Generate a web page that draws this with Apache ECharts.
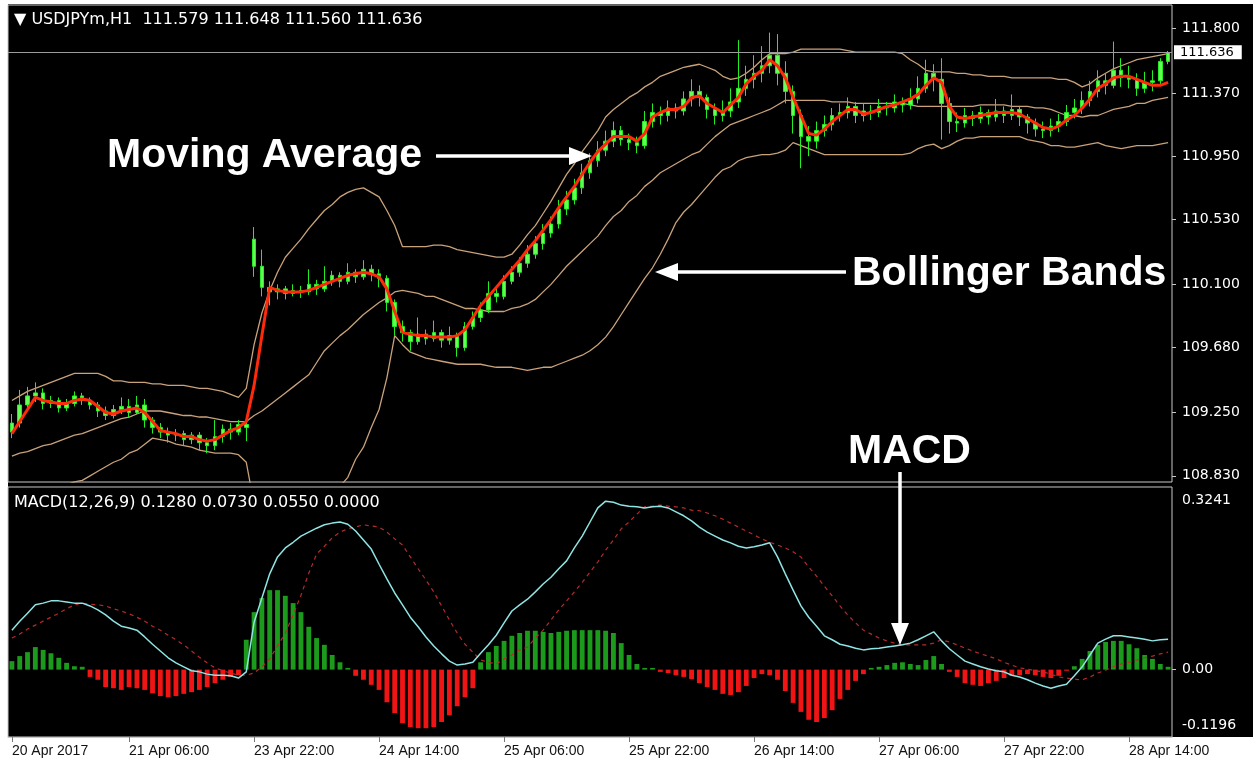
<!DOCTYPE html>
<html><head><meta charset="utf-8">
<script src="https://cdn.jsdelivr.net/npm/echarts@6/dist/echarts.min.js"></script>
<style>html,body{margin:0;padding:0;background:#fff}#c{width:1253px;height:770px}</style>
</head><body><div id="c"></div>
<script>
// ---------- DATA ----------
const tickLabels = ['20 Apr 2017','21 Apr 06:00','23 Apr 22:00','24 Apr 14:00','25 Apr 06:00','25 Apr 22:00','26 Apr 14:00','27 Apr 06:00','27 Apr 22:00','28 Apr 14:00'];
const priceTicks = [111.8,111.37,110.95,110.53,110.1,109.68,109.25,108.83];
const macdTicks = [0.3241,0,-0.1196];
const lastPrice = 111.636;

// [open, close, low, high]
const candles = [
[109.12,109.18,109.08,109.24],[109.18,109.30,109.15,109.40],[109.30,109.36,109.26,109.42],[109.36,109.38,109.32,109.45],[109.38,109.31,109.27,109.41],
[109.31,109.33,109.28,109.36],[109.33,109.28,109.25,109.35],[109.28,109.31,109.26,109.34],[109.31,109.36,109.29,109.39],[109.36,109.33,109.30,109.38],
[109.33,109.30,109.27,109.35],[109.30,109.26,109.22,109.32],[109.26,109.23,109.20,109.29],[109.23,109.27,109.21,109.30],[109.27,109.29,109.24,109.35],
[109.29,109.25,109.22,109.34],[109.25,109.30,109.24,109.36],[109.30,109.20,109.15,109.34],[109.20,109.15,109.11,109.22],[109.15,109.12,109.08,109.18],
[109.12,109.10,109.05,109.15],[109.10,109.11,109.06,109.14],[109.11,109.07,109.03,109.13],[109.07,109.10,109.04,109.12],[109.10,109.05,109.00,109.12],
[109.05,109.03,108.98,109.08],[109.03,109.09,109.00,109.20],[109.09,109.14,109.05,109.17],[109.14,109.12,109.07,109.18],[109.12,109.17,109.10,109.20],
[109.17,109.15,109.06,109.20],[110.40,110.22,110.15,110.48],[110.22,110.08,110.02,110.33],[110.08,110.05,109.96,110.12],[110.05,110.07,110.00,110.10],
[110.07,110.04,110.00,110.09],[110.04,110.06,110.02,110.10],[110.06,110.05,110.01,110.09],[110.05,110.10,110.03,110.20],[110.10,110.07,110.03,110.13],
[110.07,110.12,110.05,110.22],[110.12,110.16,110.09,110.19],[110.16,110.12,110.08,110.18],[110.12,110.18,110.10,110.24],[110.18,110.15,110.11,110.20],
[110.15,110.20,110.13,110.26],[110.20,110.17,110.12,110.23],[110.17,110.14,110.08,110.20],[110.14,109.98,109.92,110.16],[109.98,109.82,109.76,110.00],
[109.82,109.78,109.72,109.86],[109.78,109.72,109.66,109.80],[109.72,109.77,109.70,109.88],[109.77,109.74,109.70,109.80],[109.74,109.78,109.72,109.86],
[109.78,109.73,109.68,109.80],[109.73,109.76,109.70,109.82],[109.76,109.68,109.62,109.78],[109.68,109.82,109.66,109.85],[109.82,109.88,109.80,109.92],
[109.88,109.93,109.85,109.98],[109.93,110.04,109.91,110.12],[110.04,110.02,109.98,110.08],[110.02,110.12,110.00,110.16],[110.12,110.18,110.10,110.22],
[110.18,110.24,110.15,110.28],[110.24,110.30,110.21,110.36],[110.30,110.37,110.27,110.42],[110.37,110.44,110.33,110.50],[110.44,110.50,110.41,110.55],
[110.50,110.60,110.47,110.66],[110.60,110.66,110.56,110.72],[110.66,110.74,110.63,110.80],[110.74,110.84,110.70,110.90],[110.84,110.92,110.80,110.97],
[110.92,110.99,110.88,111.05],[110.99,111.05,110.95,111.12],[111.05,111.12,111.01,111.18],[111.12,111.06,111.02,111.15],[111.06,111.04,110.99,111.10],
[111.04,111.02,110.97,111.08],[111.02,111.18,111.00,111.25],[111.18,111.24,111.14,111.30],[111.24,111.22,111.16,111.28],[111.22,111.27,111.18,111.32],
[111.27,111.25,111.20,111.30],[111.25,111.33,111.22,111.38],[111.33,111.38,111.28,111.46],[111.38,111.34,111.28,111.42],[111.34,111.26,111.20,111.36],
[111.26,111.22,111.16,111.30],[111.22,111.25,111.18,111.32],[111.25,111.31,111.21,111.40],[111.31,111.40,111.27,111.72],[111.40,111.46,111.35,111.55],
[111.46,111.50,111.40,111.62],[111.50,111.55,111.44,111.68],[111.55,111.62,111.50,111.77],[111.62,111.50,111.42,111.76],[111.50,111.38,111.30,111.58],
[111.38,111.22,111.10,111.42],[111.22,111.08,110.87,111.26],[111.08,111.05,110.95,111.15],[111.05,111.12,111.00,111.18],[111.12,111.16,111.08,111.22],
[111.16,111.22,111.12,111.27],[111.22,111.24,111.18,111.30],[111.24,111.28,111.20,111.34],[111.28,111.22,111.17,111.31],[111.22,111.25,111.18,111.30],
[111.25,111.24,111.19,111.29],[111.24,111.28,111.21,111.33],[111.28,111.27,111.22,111.31],[111.27,111.31,111.24,111.36],[111.31,111.29,111.24,111.34],
[111.29,111.33,111.26,111.40],[111.33,111.40,111.30,111.48],[111.40,111.50,111.37,111.59],[111.50,111.46,111.38,111.56],[111.46,111.30,111.06,111.60],
[111.30,111.18,111.10,111.34],[111.18,111.17,111.11,111.24],[111.17,111.22,111.14,111.27],[111.22,111.20,111.15,111.25],[111.20,111.24,111.17,111.28],
[111.24,111.21,111.16,111.26],[111.21,111.25,111.18,111.33],[111.25,111.22,111.17,111.28],[111.22,111.26,111.19,111.36],[111.26,111.21,111.15,111.28],
[111.21,111.17,111.10,111.23],[111.17,111.13,111.08,111.20],[111.13,111.12,111.07,111.18],[111.12,111.15,111.08,111.20],[111.15,111.18,111.11,111.23],
[111.18,111.24,111.15,111.29],[111.24,111.27,111.20,111.33],[111.27,111.32,111.23,111.38],[111.32,111.38,111.28,111.45],[111.38,111.45,111.34,111.52],
[111.45,111.42,111.36,111.50],[111.42,111.52,111.40,111.71],[111.52,111.47,111.41,111.60],[111.47,111.46,111.40,111.55],[111.46,111.40,111.35,111.50],
[111.40,111.44,111.37,111.51],[111.44,111.45,111.38,111.52],[111.45,111.579,111.42,111.60],[111.579,111.636,111.560,111.648]
];

const maLine = [
109.11,109.19,109.27,109.35,109.33,109.32,109.31,109.31,109.33,109.34,
109.33,109.29,109.25,109.24,109.26,109.27,109.28,109.25,109.19,109.13,
109.12,109.11,109.09,109.09,109.07,109.06,109.07,109.10,109.13,109.15,
109.19,109.43,109.76,110.08,110.06,110.05,110.05,110.05,110.06,110.08,
110.10,110.12,110.14,110.16,110.17,110.18,110.17,110.15,110.07,109.92,
109.78,109.77,109.76,109.76,109.75,109.75,109.75,109.76,109.80,109.88,
109.96,110.02,110.08,110.14,110.20,110.26,110.33,110.39,110.46,110.53,
110.61,110.68,110.75,110.83,110.91,110.98,111.03,111.08,111.08,111.08,
111.05,111.10,111.21,111.24,111.26,111.26,111.28,111.34,111.35,111.30,
111.27,111.24,111.29,111.34,111.43,111.48,111.52,111.59,111.55,111.47,
111.34,111.22,111.10,111.09,111.13,111.18,111.22,111.26,111.26,111.23,
111.24,111.26,111.28,111.29,111.31,111.33,111.36,111.42,111.47,111.44,
111.28,111.21,111.20,111.21,111.22,111.23,111.24,111.24,111.24,111.23,
111.20,111.17,111.14,111.13,111.15,111.19,111.22,111.27,111.33,111.40,
111.43,111.47,111.48,111.48,111.46,111.44,111.42,111.42,111.44
];

const bbUpper = [
109.33,109.36,109.39,109.41,109.43,109.45,109.47,109.49,109.51,109.51,
109.51,109.51,109.49,109.46,109.46,109.45,109.45,109.45,109.44,109.44,
109.43,109.43,109.43,109.42,109.41,109.41,109.40,109.39,109.37,109.35,
109.41,109.70,109.91,110.06,110.18,110.28,110.34,110.40,110.47,110.53,
110.59,110.63,110.68,110.71,110.73,110.74,110.71,110.68,110.59,110.49,
110.35,110.35,110.35,110.35,110.36,110.36,110.35,110.33,110.32,110.31,
110.30,110.29,110.28,110.28,110.30,110.36,110.43,110.49,110.57,110.65,
110.74,110.83,110.90,110.98,111.05,111.12,111.21,111.26,111.30,111.34,
111.37,111.41,111.44,111.48,111.50,111.52,111.54,111.55,111.56,111.54,
111.52,111.48,111.46,111.47,111.50,111.54,111.59,111.63,111.63,111.63,
111.64,111.66,111.66,111.66,111.66,111.66,111.66,111.65,111.64,111.64,
111.64,111.64,111.64,111.64,111.63,111.59,111.56,111.52,111.51,111.51,
111.51,111.50,111.50,111.49,111.49,111.48,111.48,111.48,111.47,111.47,
111.47,111.47,111.47,111.47,111.46,111.46,111.44,111.41,111.43,111.47,
111.50,111.53,111.55,111.57,111.59,111.60,111.61,111.62,111.63
];

const bbMiddle = [
108.96,108.98,108.99,109.01,109.03,109.04,109.06,109.08,109.10,109.11,
109.13,109.15,109.17,109.19,109.21,109.22,109.24,109.26,109.26,109.26,
109.25,109.24,109.23,109.23,109.22,109.22,109.21,109.20,109.19,109.19,
109.19,109.23,109.26,109.30,109.34,109.38,109.42,109.46,109.50,109.58,
109.66,109.71,109.76,109.80,109.85,109.90,109.94,109.98,110.01,110.05,
110.06,110.05,110.04,110.02,110.02,110.00,109.98,109.96,109.94,109.94,
109.93,109.92,109.92,109.92,109.94,109.95,109.97,110.00,110.05,110.10,
110.16,110.22,110.27,110.32,110.37,110.42,110.49,110.55,110.59,110.65,
110.69,110.75,110.79,110.84,110.87,110.90,110.93,110.96,110.98,111.03,
111.08,111.12,111.16,111.18,111.20,111.22,111.24,111.26,111.29,111.32,
111.32,111.32,111.32,111.32,111.32,111.31,111.31,111.31,111.30,111.30,
111.30,111.30,111.30,111.30,111.30,111.29,111.28,111.28,111.28,111.28,
111.28,111.28,111.28,111.28,111.29,111.29,111.29,111.29,111.28,111.28,
111.28,111.27,111.27,111.26,111.24,111.22,111.22,111.21,111.22,111.22,
111.24,111.26,111.27,111.28,111.30,111.30,111.32,111.33,111.34
];

const bbLower = [
108.64,108.66,108.67,108.69,108.70,108.72,108.74,108.77,108.79,108.80,
108.83,108.86,108.89,108.92,108.94,108.98,109.00,109.04,109.08,109.07,
109.06,109.04,109.03,109.02,109.00,108.99,108.98,108.98,108.98,108.97,
108.92,108.64,108.50,108.51,108.51,108.52,108.52,108.53,108.58,108.63,
108.68,108.70,108.76,108.82,108.94,109.02,109.15,109.27,109.48,109.76,
109.70,109.65,109.63,109.61,109.60,109.59,109.58,109.57,109.57,109.57,
109.57,109.56,109.55,109.55,109.55,109.54,109.53,109.54,109.55,109.55,
109.57,109.59,109.61,109.63,109.66,109.70,109.75,109.82,109.90,109.98,
110.06,110.14,110.21,110.30,110.40,110.51,110.58,110.63,110.69,110.75,
110.81,110.86,110.88,110.92,110.94,110.95,110.96,110.96,110.97,110.99,
111.04,111.02,111.00,110.98,110.96,110.96,110.96,110.96,110.96,110.96,
110.96,110.96,110.96,110.96,110.96,110.97,111.00,111.02,111.03,111.00,
111.02,111.05,111.07,111.07,111.08,111.08,111.08,111.08,111.08,111.08,
111.06,111.05,111.04,111.02,111.02,111.01,111.01,111.02,111.03,111.04,
111.02,111.01,111.00,111.01,111.02,111.02,111.02,111.03,111.04
];

const macdLine = [
0.070,0.086,0.100,0.115,0.118,0.122,0.122,0.120,0.118,0.118,
0.113,0.106,0.097,0.086,0.077,0.074,0.070,0.058,0.045,0.033,
0.021,0.012,0.005,-0.002,-0.004,-0.008,-0.010,-0.010,-0.011,-0.015,
-0.004,0.084,0.127,0.170,0.200,0.216,0.226,0.237,0.244,0.251,
0.257,0.260,0.262,0.258,0.246,0.230,0.214,0.187,0.161,0.136,
0.115,0.093,0.076,0.058,0.042,0.028,0.015,0.008,0.010,0.013,
0.029,0.044,0.061,0.083,0.104,0.115,0.125,0.138,0.152,0.164,
0.179,0.193,0.216,0.237,0.262,0.287,0.299,0.297,0.292,0.290,
0.289,0.287,0.289,0.290,0.287,0.280,0.273,0.264,0.253,0.244,
0.237,0.230,0.225,0.219,0.216,0.218,0.221,0.225,0.200,0.170,
0.141,0.113,0.093,0.077,0.060,0.053,0.045,0.042,0.038,0.035,
0.037,0.038,0.040,0.042,0.044,0.047,0.053,0.060,0.067,0.051,
0.037,0.026,0.015,0.010,0.005,0.001,-0.002,-0.004,-0.010,-0.013,
-0.018,-0.024,-0.029,-0.033,-0.029,-0.026,-0.011,0.005,0.026,0.047,
0.054,0.060,0.060,0.058,0.056,0.054,0.051,0.053,0.054
];

const signalLine = [
0.056,0.063,0.072,0.079,0.086,0.093,0.100,0.108,0.115,0.118,
0.116,0.115,0.113,0.108,0.104,0.099,0.093,0.086,0.077,0.070,
0.061,0.053,0.044,0.033,0.022,0.012,0.003,-0.002,-0.006,-0.010,
-0.010,-0.006,0.005,0.019,0.042,0.065,0.097,0.132,0.171,0.205,
0.219,0.234,0.244,0.250,0.253,0.257,0.255,0.253,0.244,0.232,
0.221,0.200,0.179,0.159,0.138,0.113,0.088,0.065,0.045,0.031,
0.017,0.013,0.010,0.019,0.026,0.035,0.040,0.056,0.070,0.088,
0.106,0.122,0.138,0.155,0.173,0.191,0.212,0.230,0.250,0.262,
0.276,0.289,0.290,0.292,0.290,0.289,0.287,0.283,0.282,0.278,
0.273,0.267,0.260,0.253,0.246,0.239,0.232,0.226,0.221,0.216,
0.209,0.200,0.182,0.166,0.148,0.131,0.113,0.097,0.083,0.070,
0.063,0.056,0.051,0.047,0.044,0.044,0.044,0.044,0.047,0.053,
0.049,0.044,0.038,0.033,0.028,0.024,0.019,0.013,0.008,0.003,
0.001,-0.002,-0.004,-0.008,-0.013,-0.015,-0.017,-0.018,-0.013,-0.006,
-0.001,0.005,0.010,0.013,0.017,0.021,0.024,0.028,0.031
];

const histogram = [
0.015,0.024,0.031,0.040,0.035,0.029,0.021,0.012,0.006,0.005,
-0.013,-0.018,-0.031,-0.033,-0.036,-0.031,-0.033,-0.036,-0.042,-0.047,
-0.049,-0.047,-0.043,-0.040,-0.036,-0.031,-0.024,-0.018,-0.013,-0.010,
0.053,0.102,0.127,0.141,0.141,0.131,0.118,0.102,0.076,0.056,
0.044,0.026,0.013,0.003,-0.011,-0.018,-0.027,-0.036,-0.058,-0.077,
-0.095,-0.102,-0.104,-0.104,-0.102,-0.093,-0.081,-0.065,-0.049,-0.033,
0.013,0.031,0.042,0.051,0.060,0.065,0.069,0.069,0.067,0.065,
0.067,0.069,0.070,0.070,0.070,0.070,0.069,0.065,0.047,0.026,
0.010,0.003,0.003,-0.004,-0.006,-0.010,-0.013,-0.017,-0.024,-0.031,
-0.036,-0.043,-0.045,-0.040,-0.029,-0.015,-0.008,-0.010,-0.018,-0.038,
-0.059,-0.075,-0.089,-0.093,-0.086,-0.072,-0.052,-0.036,-0.020,-0.008,
0.003,0.005,0.008,0.012,0.013,0.010,0.008,0.017,0.024,0.010,
-0.004,-0.013,-0.024,-0.027,-0.029,-0.024,-0.020,-0.015,-0.011,-0.010,
-0.008,-0.010,-0.013,-0.015,-0.011,-0.002,0.006,0.019,0.033,0.044,
0.049,0.051,0.051,0.045,0.038,0.026,0.019,0.010,0.005
];

// hourly bar times (market closed Fri 22:00 - Sun 22:00)
const MONTHS = ['Jan','Feb','Mar','Apr','May','Jun','Jul','Aug','Sep','Oct','Nov','Dec'];
const categories = [];
(function(){
  let t = Date.UTC(2017,3,20,15);
  while (categories.length < candles.length) {
    const d = new Date(t), dow = d.getUTCDay(), h = d.getUTCHours();
    const closed = (dow === 5 && h >= 22) || dow === 6 || (dow === 0 && h < 22);
    if (!closed) categories.push(d.getUTCDate() + ' ' + MONTHS[d.getUTCMonth()] + ' ' + String(h).padStart(2,'0') + ':00');
    t += 3600000;
  }
})();
// time-scale labels: first bar, then every 16 bars from 21 Apr 06:00 (index 15)
const isTickBar = i => i === 0 || (i >= 15 && (i - 15) % 16 === 0);
const tickLabelAt = i => i === 0 ? tickLabels[0] : (tickLabels[(i - 15) / 16 + 1] || '');

// ---------- CHART ----------
const FONT = '"DejaVu Sans", Tahoma, sans-serif';
const AXISFONT = '"Liberation Sans", Arial, sans-serif';
const BOLD = 'bold 41px "Liberation Sans", Arial, sans-serif';
const BAND = '#c9a27a';
const chart = echarts.init(document.getElementById('c'));

chart.setOption({
  animation: false,
  backgroundColor: '#fff',
  title: [
    {text: '\u25BC USDJPYm,H1  111.579 111.648 111.560 111.636', left: 14, top: 12, padding: 0,
     textStyle: {color: '#fff', fontSize: 16, fontWeight: 'normal', fontFamily: FONT}},
    {text: 'MACD(12,26,9) 0.1280 0.0730 0.0550 0.0000', left: 14, top: 495, padding: 0,
     textStyle: {color: '#fff', fontSize: 16, fontWeight: 'normal', fontFamily: FONT}}
  ],
  grid: [
    {left: 8, right: 81, top: 5, height: 477, show: true, backgroundColor: '#000', borderColor: '#c8c8c8', borderWidth: 1},
    {left: 8, right: 81, top: 487, height: 250, show: true, backgroundColor: '#000', borderColor: '#c8c8c8', borderWidth: 1}
  ],
  xAxis: [
    {type: 'category', gridIndex: 0, data: categories, boundaryGap: true,
     axisLine: {show: false, onZero: false}, axisTick: {show: false}, axisLabel: {show: false}, splitLine: {show: false}},
    {type: 'category', gridIndex: 1, data: categories, boundaryGap: true, position: 'bottom',
     axisLine: {show: true, onZero: false, lineStyle: {color: '#c8c8c8'}},
     axisTick: {show: true, interval: isTickBar, alignWithLabel: true, length: 5, lineStyle: {color: '#777'}},
     axisLabel: {interval: isTickBar, align: 'left', color: '#111', fontFamily: AXISFONT, fontSize: 14, margin: 7,
                 formatter: (v, i) => tickLabelAt(i)},
     splitLine: {show: false}}
  ],
  yAxis: [
    {type: 'value', gridIndex: 0, position: 'right', min: 108.789, max: 111.953,
     axisLine: {show: false}, splitLine: {show: false},
     axisTick: {show: true, customValues: priceTicks, length: 4, lineStyle: {color: '#c8c8c8'}},
     axisLabel: {customValues: priceTicks, color: '#fff', fontFamily: FONT, fontSize: 14, margin: 10,
                 formatter: v => v.toFixed(3)}},
    {type: 'value', gridIndex: 1, position: 'right', min: -0.1196, max: 0.3241,
     axisLine: {show: false}, splitLine: {show: false},
     axisTick: {show: true, customValues: [0], length: 4, lineStyle: {color: '#c8c8c8'}},
     axisLabel: {customValues: macdTicks, color: '#fff', fontFamily: FONT, fontSize: 14, margin: 10,
                 formatter: v => v > 0.3 ? '{t|0.3241}' : (v < -0.1 ? '{b|-0.1196}' : '{m|0.00}'),
                 rich: {
                   t: {padding: [26, 0, 0, 0], color: '#fff', fontFamily: FONT, fontSize: 14},
                   b: {padding: [0, 0, 24, 0], color: '#fff', fontFamily: FONT, fontSize: 14},
                   m: {color: '#fff', fontFamily: FONT, fontSize: 14}
                 }}}
  ],
  series: [
    {name: 'Upper', type: 'line', xAxisIndex: 0, yAxisIndex: 0, data: bbUpper, symbol: 'none', z: 2,
     lineStyle: {color: BAND, width: 1.3}},
    {name: 'Middle', type: 'line', xAxisIndex: 0, yAxisIndex: 0, data: bbMiddle, symbol: 'none', z: 2,
     lineStyle: {color: BAND, width: 1.3}},
    {name: 'Lower', type: 'line', xAxisIndex: 0, yAxisIndex: 0, data: bbLower, symbol: 'none', z: 2,
     lineStyle: {color: BAND, width: 1.3}},
    {name: 'USDJPYm', type: 'candlestick', xAxisIndex: 0, yAxisIndex: 0, data: candles, barWidth: 4, z: 3,
     itemStyle: {color: '#66ff55', color0: '#66ff55', borderColor: '#22ee22', borderColor0: '#22ee22', borderWidth: 1},
     markLine: {silent: true, symbol: 'none', animation: false,
       data: [{yAxis: lastPrice}],
       lineStyle: {color: '#9c9c9c', type: 'solid', width: 1},
       label: {position: 'end', distance: 2, formatter: lastPrice.toFixed(3), color: '#000', backgroundColor: '#fff',
               padding: [1, 8, 0, 6], fontFamily: FONT, fontSize: 13}}},
    {name: 'MA', type: 'line', xAxisIndex: 0, yAxisIndex: 0, data: maLine, symbol: 'none', z: 5,
     lineStyle: {color: '#ff2a0a', width: 3}},
    {name: 'Histogram', type: 'bar', xAxisIndex: 1, yAxisIndex: 1, data: histogram, barWidth: '62%', z: 2,
     itemStyle: {color: p => p.value >= 0 ? '#1c9a1c' : '#f01414'}},
    {name: 'MACD', type: 'line', xAxisIndex: 1, yAxisIndex: 1, data: macdLine, symbol: 'none', z: 4,
     lineStyle: {color: '#8fe4e4', width: 1.5}},
    {name: 'Signal', type: 'line', xAxisIndex: 1, yAxisIndex: 1, data: signalLine, symbol: 'none', z: 3,
     lineStyle: {color: '#b82a2a', width: 1.2, type: [4, 4]}}
  ],
  graphic: [
    {type: 'rect', z: -1, silent: true, shape: {x: 8, y: 4, width: 1245, height: 733}, style: {fill: '#000'}},
    // annotations
    {type: 'text', z: 100, style: {text: 'Moving Average', x: 107, y: 156, fill: '#fff', font: BOLD, verticalAlign: 'middle', textVerticalAlign: 'middle'}},
    {type: 'line', z: 100, shape: {x1: 436, y1: 156, x2: 572, y2: 156}, style: {stroke: '#fff', lineWidth: 3.5}},
    {type: 'polygon', z: 100, shape: {points: [[569, 147], [592, 156], [569, 165]]}, style: {fill: '#fff'}},
    {type: 'text', z: 100, style: {text: 'Bollinger Bands', x: 852, y: 274, fill: '#fff', font: BOLD, verticalAlign: 'middle', textVerticalAlign: 'middle'}},
    {type: 'line', z: 100, shape: {x1: 676, y1: 272, x2: 846, y2: 272}, style: {stroke: '#fff', lineWidth: 3.5}},
    {type: 'polygon', z: 100, shape: {points: [[678, 263], [655, 272], [678, 281]]}, style: {fill: '#fff'}},
    {type: 'text', z: 100, style: {text: 'MACD', x: 848, y: 452, fill: '#fff', font: BOLD, verticalAlign: 'middle', textVerticalAlign: 'middle'}},
    {type: 'line', z: 100, shape: {x1: 900, y1: 472, x2: 900, y2: 626}, style: {stroke: '#fff', lineWidth: 3.5}},
    {type: 'polygon', z: 100, shape: {points: [[891, 623], [900, 645], [909, 623]]}, style: {fill: '#fff'}}
  ]
});
</script></body></html>
